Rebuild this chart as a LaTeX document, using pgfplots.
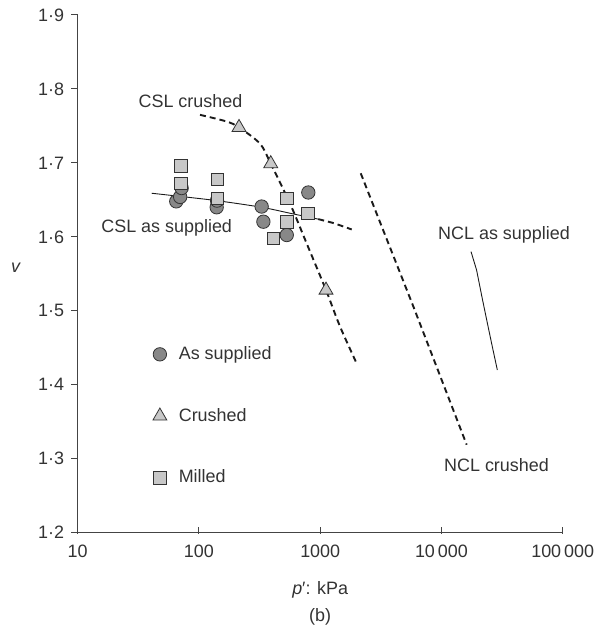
\documentclass[border=0pt]{standalone}
\usepackage{pgfplots}
\pgfplotsset{compat=1.18}
\usepackage{fontspec}
\setmainfont{Liberation Sans}
\definecolor{txt}{HTML}{333333}
\definecolor{ax}{HTML}{444444}
\definecolor{cfill}{HTML}{888888}
\definecolor{lfill}{HTML}{C8C8C8}
\definecolor{edge}{HTML}{333333}
\definecolor{ln}{HTML}{1A1A1A}
\begin{document}
\fontsize{18}{21}\selectfont
\begin{tikzpicture}[x=1bp,y=1bp]
\begin{axis}[
  xmode=log,
  width=485bp, height=517.7bp, scale only axis,
  xmin=10, xmax=100000, ymin=1.2, ymax=1.9,
  axis x line*=bottom, axis y line*=left,
  axis line style={ax, line width=1bp, -},
  xtick={10,100,1000,10000,100000},
  xticklabels={10,100,1000,10\,000,100\,000},
  ytick={1.2,1.3,1.4,1.5,1.6,1.7,1.8,1.9},
  yticklabels={1·2,1·3,1·4,1·5,1·6,1·7,1·8,1·9},
  xminorticks=false,
  tick align=outside,
  major tick length=6.5bp,
  major tick style={ax, line width=1bp},
  major x tick style={yshift=5.5bp},
  ticklabel style={font=\fontsize{18}{21}\selectfont, text=txt},
  y tick label style={xshift=-1bp},
  xlabel={\textit{p}′: kPa},
  xlabel style={font=\fontsize{18}{21}\selectfont, text=txt, at={(axis description cs:0.5,-0.1109)}, anchor=center},
  ylabel={\textit{v}},
  ylabel style={font=\fontsize{18}{21}\selectfont, text=txt, rotate=-90, at={(axis description cs:-0.127,0.511)}, anchor=center},
  legend style={draw=none, fill=none, font=\fontsize{18}{21}\selectfont, text=txt,
    at={(axis cs:39.3,1.4588)}, anchor=north west, row sep=40bp,
    nodes={inner sep=3bp},
    /tikz/every odd column/.append style={column sep=9bp}},
  legend cell align=left,
  legend image code/.code={\draw[#1] plot coordinates {(6bp,0bp)};},
  clip=false,
]
% As supplied (circles)
\addplot[only marks, mark=*, mark size=6.7bp, mark options={fill=cfill, draw=edge, line width=0.8bp}]
coordinates {
(65,1.648) (70,1.654) (72,1.666)
(140,1.640) (141,1.649)
(329,1.641) (340,1.6205) (530,1.6025) (798,1.660)
};
\addlegendentry{As supplied}
% Crushed (triangles)
\addplot[only marks, mark=triangle*, mark size=8bp, mark options={fill=lfill, draw=edge, line width=0.8bp}]
coordinates {
(214,1.748) (391,1.699) (1117,1.528)
};
\addlegendentry{Crushed}
% Milled (squares)
\addplot[only marks, mark=square*, mark size=6.2bp, mark options={fill=lfill, draw=edge, line width=0.8bp}]
coordinates {
(71,1.696) (71,1.672) (141.6,1.678) (141.6,1.652)
(530,1.652) (530,1.6205) (410,1.598) (789,1.632)
};
\addlegendentry{Milled}
% CSL as supplied (solid part)
\addplot[forget plot, ln, line width=0.9bp, smooth] coordinates {
(40.7,1.659) (67.6,1.655) (140,1.649) (329,1.640) (600,1.631) (964,1.624)
};
% CSL as supplied (dashed continuation)
\addplot[forget plot, ln, line width=1.9bp, dash pattern=on 6bp off 4bp] coordinates {
(964,1.624) (1300,1.6185) (1820,1.610)
};
% CSL crushed
\addplot[forget plot, ln, line width=1.9bp, dash pattern=on 6bp off 4bp, smooth] coordinates {
(102,1.765) (169,1.756) (214,1.748) (319,1.726) (391,1.699) (564,1.645) (774,1.591) (1117,1.528) (1455,1.479) (2023,1.427)
};
% NCL crushed
\addplot[forget plot, ln, line width=1.9bp, dash pattern=on 6bp off 4bp] coordinates {
(2158,1.686) (5860,1.506) (16140,1.319)
};
% NCL as supplied
\addplot[forget plot, ln, line width=0.9bp] coordinates {
(17540,1.580) (19500,1.555) (21500,1.520) (23800,1.485) (26000,1.455) (28900,1.420)
};
\node[text=txt, font=\fontsize{18}{21}\selectfont] at (axis cs:85.1,1.7837) {CSL crushed};
\node[text=txt, font=\fontsize{18}{21}\selectfont] at (axis cs:54.2,1.6124) {CSL as supplied};
\node[text=txt, font=\fontsize{18}{21}\selectfont] at (axis cs:32800,1.6025) {NCL as supplied};
\node[text=txt, font=\fontsize{18}{21}\selectfont] at (axis cs:28450,1.2916) {NCL crushed};
\node[text=txt, font=\fontsize{18}{21}\selectfont] at (axis description cs:0.5,-0.162) {(b)};
\end{axis}
\pgfresetboundingbox
\path ([shift={(-77.7bp,-92.3bp)}]current axis.south west) rectangle ++(604bp,625bp);
\end{tikzpicture}
\end{document}
